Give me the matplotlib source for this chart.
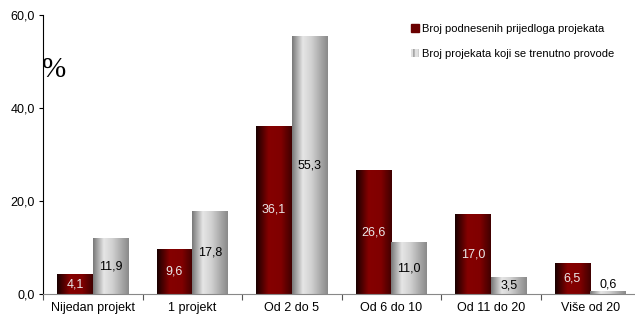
import numpy as np
import matplotlib
matplotlib.use("Agg")
import matplotlib.pyplot as plt
from matplotlib.colors import LinearSegmentedColormap
from matplotlib.patches import Patch

plt.rcParams['font.family'] = ['Liberation Sans', 'DejaVu Sans']

categories = ["Nijedan projekt", "1 projekt", "Od 2 do 5", "Od 6 do 10", "Od 11 do 20", "Više od 20"]
podneseni = [4.1, 9.6, 36.1, 26.6, 17.0, 6.5]
provode = [11.9, 17.8, 55.3, 11.0, 3.5, 0.6]
series_names = ["Broj podnesenih prijedloga projekata", "Broj projekata koji se trenutno provode"]
yticks = [0, 20, 40, 60]

red_cmap = LinearSegmentedColormap.from_list(
    "red", [(0, "#1a0000"), (0.35, "#850000"), (0.7, "#800000"), (1.0, "#400000")])
grey_cmap = LinearSegmentedColormap.from_list(
    "grey", [(0, "#7a7a7a"), (0.3, "#e6e6e6"), (0.55, "#d0d0d0"), (1.0, "#8a8a8a")])
grad = np.linspace(0, 1, 64).reshape(1, -1)

fig = plt.figure(figsize=(6.35, 3.16), dpi=100)
ax = fig.add_axes([0.068, 0.07, 0.94, 0.883])

x = np.arange(len(categories))
w = 0.36
bars_r = ax.bar(x - w / 2, podneseni, w, color="#800000", zorder=1)
bars_g = ax.bar(x + w / 2, provode, w, color="#c8c8c8", zorder=1)

# gradient fill on each bar
for bars, cmap in ((bars_r, red_cmap), (bars_g, grey_cmap)):
    for b in bars:
        x0, h = b.get_x(), b.get_height()
        ax.imshow(grad, cmap=cmap, extent=[x0, x0 + b.get_width(), 0, h],
                  aspect='auto', zorder=2, interpolation='bilinear')

for i in range(len(categories)):
    for v, dx, col in ((podneseni[i], -w / 2, "#e8e8e8"), (provode[i], w / 2, "black")):
        yy = v / 2 if v > 2 else v + 1.5
        ax.text(i + dx, yy, f"{v:.1f}".replace(".", ","), ha="center", va="center",
                fontsize=9, color=col, zorder=3)

ax.set_xlim(-0.5, 5.5)
ax.set_ylim(0, 60)
ax.set_yticks(yticks)
ax.set_yticklabels([f"{t:.1f}".replace(".", ",") for t in yticks], fontsize=9)
ax.set_xticks(np.arange(-0.5, 6.0, 1.0))
ax.set_xticklabels([])
ax.set_xticks(x, minor=True)
ax.set_xticklabels(categories, minor=True, fontsize=9)
ax.tick_params(axis='x', which='minor', length=0, pad=6)
ax.tick_params(axis='x', which='major', length=4, direction='out', color="#555555")
ax.tick_params(axis='y', length=3, direction='out', pad=3)
for s in ("top", "right"):
    ax.spines[s].set_visible(False)
ax.spines["bottom"].set_color("#888888")

fig.text(0.066, 0.78, "%", fontsize=21, family="Liberation Serif", ha="left", va="center")

handles = [Patch(facecolor="#6a0000", edgecolor="#6a0000"),
           Patch(facecolor="#e0e0e0", edgecolor="#999999", hatch="|||", linewidth=0)]
fig.legend(handles, series_names, loc="upper left", bbox_to_anchor=(0.632, 0.955),
           frameon=False, fontsize=8, handlelength=0.7, handleheight=0.7,
           handletextpad=0.3, labelspacing=1.3)

fig.savefig("out.png", dpi=100)
